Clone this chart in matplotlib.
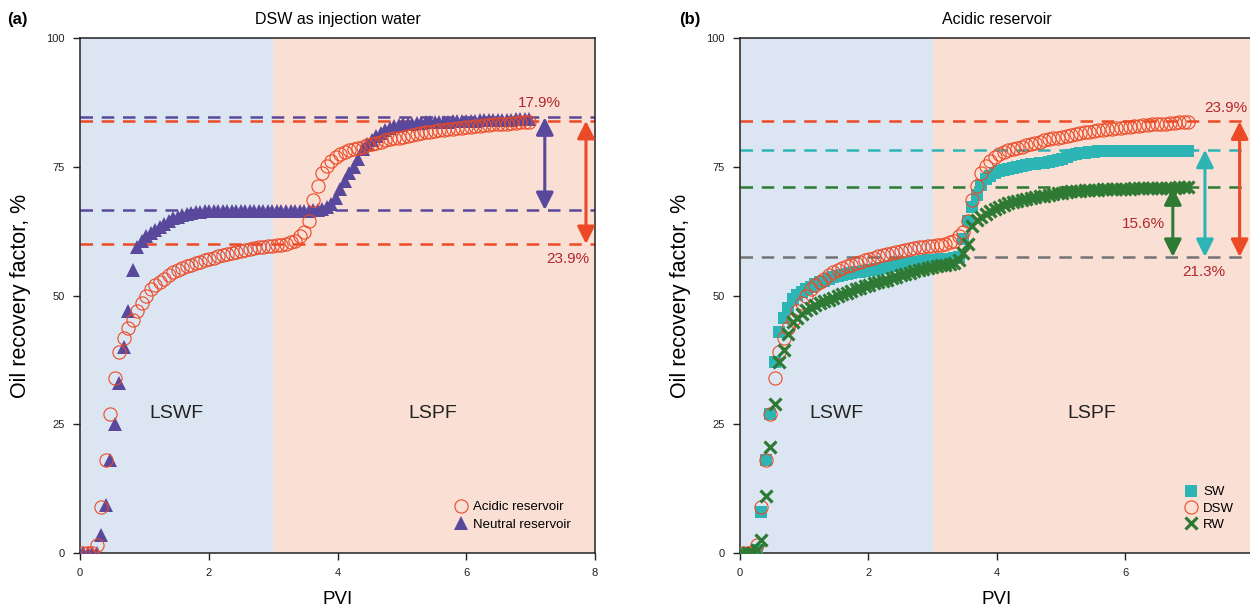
import numpy as np
import matplotlib
matplotlib.use('Agg')
import matplotlib.pyplot as plt

plt.rcParams['font.family'] = ['Liberation Sans', 'DejaVu Sans']

# PVI sampling grid of the simulation output
pvi = np.round(0.05 + 0.07 * np.arange(100), 2)

# (a) / (b) DSW in acidic reservoir (same run in both panels)
dsw_acidic = [0, 0, 0, 1.5, 9, 18, 27, 34, 39, 41.8,
              43.6, 45.3, 47, 48.6, 49.9, 51.2, 52, 52.6, 53.3, 53.9,
              54.6, 55.0, 55.4, 55.7, 56.0, 56.3, 56.5, 56.8, 57.0, 57.3,
              57.6, 57.9, 58.0, 58.2, 58.4, 58.6, 58.8, 59.0, 59.2, 59.4,
              59.5, 59.6, 59.7, 59.8, 59.9, 60.0, 60.3, 60.6, 61.5, 62.4,
              64.5, 68.5, 71.3, 73.8, 75.2, 76.2, 76.9, 77.4, 77.9, 78.2,
              78.5, 78.7, 78.9, 79.2, 79.4, 79.7, 79.9, 80.1, 80.3, 80.5,
              80.6, 80.8, 81.0, 81.2, 81.4, 81.5, 81.7, 81.8, 81.9, 82.1,
              82.2, 82.3, 82.4, 82.5, 82.6, 82.7, 82.8, 82.9, 83.0, 83.1,
              83.2, 83.3, 83.3, 83.4, 83.4, 83.5, 83.5, 83.6, 83.6, 83.7]

# (a) DSW in neutral reservoir
dsw_neutral = [0, 0, 0, 0, 3.5, 9.3, 18, 25, 33, 40,
               47, 55, 59.5, 60.6, 61.5, 62.1, 62.7, 63.3, 63.9, 64.5,
               65.0, 65.3, 65.6, 65.8, 66.0, 66.2, 66.3, 66.4, 66.5, 66.5,
               66.5, 66.5, 66.5, 66.5, 66.5, 66.5, 66.5, 66.5, 66.5, 66.5,
               66.5, 66.5, 66.5, 66.5, 66.5, 66.5, 66.5, 66.5, 66.5, 66.5,
               66.5, 66.6, 66.7, 66.8, 67.2, 67.8, 69.0, 70.6, 72.3, 73.8,
               75.0, 76.5, 78.4, 79.4, 80.2, 81.0, 81.6, 82.2, 82.6, 82.9,
               83.1, 83.3, 83.4, 83.4, 83.5, 83.5, 83.6, 83.6, 83.6, 83.7,
               83.7, 83.7, 83.8, 83.8, 83.8, 83.9, 83.9, 83.9, 84.0, 84.0,
               84.0, 84.0, 84.1, 84.1, 84.1, 84.1, 84.2, 84.2, 84.2, 84.2]

# (b) SW in acidic reservoir
sw_acidic = [0, 0, 0, 0.5, 8, 18, 27, 37, 43, 45.6,
             47.5, 49.3, 50.1, 50.7, 51.2, 51.7, 52.2, 52.6, 52.9, 53.2,
             53.5, 53.7, 53.9, 54.1, 54.3, 54.5, 54.6, 54.8, 54.9, 55.0,
             55.2, 55.4, 55.5, 55.7, 55.9, 56.1, 56.3, 56.4, 56.5, 56.6,
             56.7, 56.8, 56.9, 56.9, 57.0, 57.0, 57.1, 57.2, 57.5, 61.0,
             64.5, 67.2, 69.6, 71.4, 72.6, 73.3, 73.8, 74.1, 74.4, 74.6,
             74.8, 75.0, 75.1, 75.3, 75.5, 75.6, 75.7, 75.8, 76.0, 76.1,
             76.3, 76.5, 76.9, 77.2, 77.4, 77.6, 77.7, 77.8, 77.9, 78.0,
             78.0, 78.0, 78.0, 78.1, 78.1, 78.1, 78.1, 78.1, 78.1, 78.1,
             78.1, 78.1, 78.1, 78.1, 78.1, 78.1, 78.1, 78.1, 78.1, 78.1]

# (b) RW in acidic reservoir
rw_acidic = [0, 0, 0, 0.5, 2.5, 11, 20.5, 29, 37, 39.5,
             42.5, 44.8, 45.7, 46.5, 47.1, 47.6, 48.1, 48.5, 48.9, 49.2,
             49.6, 49.9, 50.2, 50.5, 50.8, 51.2, 51.5, 51.8, 52.1, 52.4,
             52.6, 52.9, 53.1, 53.4, 53.6, 53.9, 54.2, 54.4, 54.7, 54.9,
             55.1, 55.3, 55.5, 55.7, 55.9, 56.0, 56.2, 56.4, 56.8, 58.2,
             60.0, 63.5, 64.6, 65.3, 65.9, 66.4, 66.8, 67.2, 67.6, 67.9,
             68.1, 68.3, 68.5, 68.7, 68.9, 69.1, 69.3, 69.4, 69.6, 69.7,
             69.9, 70.0, 70.1, 70.2, 70.3, 70.3, 70.4, 70.4, 70.5, 70.5,
             70.6, 70.6, 70.6, 70.7, 70.7, 70.7, 70.7, 70.8, 70.8, 70.8,
             70.8, 70.8, 70.9, 70.9, 70.9, 70.9, 70.9, 71.0, 71.0, 71.0]

# reference levels (end of LSWF / end of LSPF)
levels_a = {'acidic': (60.0, 83.9), 'neutral': (66.6, 84.6)}
levels_b = {'base': 57.5, 'DSW': 83.8, 'SW': 78.3, 'RW': 71.0}
labels_a = ['17.9%', '23.9%']
labels_b = ['23.9%', '21.3%', '15.6%']

RED = '#ec4a26'
PURPLE = '#5a489c'
TEAL = '#2db5b5'
GREEN = '#2e7a34'
GREY = '#737373'
TXT = '#b3282d'
BLUE_BG = '#dce6f2'
PINK_BG = '#fadfd4'


def style_axes(ax, xmax, xticks):
    ax.axvspan(0, 3, color=BLUE_BG, zorder=0, lw=0)
    ax.axvspan(3, xmax, color=PINK_BG, zorder=0, lw=0)
    ax.set_xlim(0, xmax)
    ax.set_ylim(0, 100)
    ax.set_xticks(xticks)
    ax.set_yticks([0, 25, 50, 75, 100])
    ax.tick_params(labelsize=8, length=5, width=1, colors='#222222', pad=6)
    for s in ax.spines.values():
        s.set_color('#222222')
        s.set_linewidth(1.1)
    ax.set_xlabel('PVI', fontsize=13.5, labelpad=9)
    ax.set_ylabel('Oil recovery factor, %', fontsize=15.5, labelpad=11)
    ax.text(1.5, 27, 'LSWF', fontsize=14, color='#222222', ha='center', va='center')
    ax.text(5.48, 27, 'LSPF', fontsize=14, color='#222222', ha='center', va='center')


def dbl_arrow(ax, x, y0, y1, color):
    ax.annotate('', xy=(x, y1), xytext=(x, y0),
                arrowprops=dict(arrowstyle='<|-|>,head_length=0.7,head_width=0.35',
                                color=color, lw=2.2, mutation_scale=15,
                                shrinkA=0, shrinkB=0), zorder=6)


fig = plt.figure(figsize=(12.5, 6.14), dpi=100)
ax1 = fig.add_axes([0.064, 0.0993, 0.412, 0.8388])
ax2 = fig.add_axes([0.592, 0.0993, 0.411, 0.8388])

# ---- (a)
style_axes(ax1, 8, [0, 2, 4, 6, 8])
dash = dict(lw=1.8, dashes=(5, 3.5), zorder=2)
ax1.axhline(levels_a['neutral'][1], color=PURPLE, **dash)
ax1.axhline(levels_a['neutral'][0], color=PURPLE, **dash)
ax1.axhline(levels_a['acidic'][1], color=RED, **dash)
ax1.axhline(levels_a['acidic'][0], color=RED, **dash)
h_neu, = ax1.plot(pvi, dsw_neutral, ls='none', marker='^', ms=9.5,
                  color=PURPLE, mec=PURPLE, mew=0, zorder=3)
h_acd, = ax1.plot(pvi, dsw_acidic, ls='none', marker='o', ms=9.5,
                  mfc='none', mec=RED, mew=0.8, zorder=4)
dbl_arrow(ax1, 7.22, levels_a['neutral'][0], levels_a['neutral'][1], PURPLE)
dbl_arrow(ax1, 7.86, levels_a['acidic'][0], levels_a['acidic'][1], RED)
ax1.text(7.14, 87.4, labels_a[0], color=TXT, fontsize=11, ha='center', va='center')
ax1.text(7.58, 57.0, labels_a[1], color=TXT, fontsize=11, ha='center', va='center')
ax1.legend([h_acd, h_neu], ['Acidic reservoir', 'Neutral reservoir'],
           loc='lower right', bbox_to_anchor=(0.975, 0.02), frameon=False,
           fontsize=9.5, handletextpad=0.3, labelspacing=0.4, handlelength=1.2)
ax1.set_title('DSW as injection water', fontsize=11.5, pad=10)
fig.text(0.006, 0.968, '(a)', fontsize=12, fontweight='bold', va='center')

# ---- (b)
style_axes(ax2, 8, [0, 2, 4, 6])
ax2.axhline(levels_b['DSW'], color=RED, **dash)
ax2.axhline(levels_b['SW'], color=TEAL, **dash)
ax2.axhline(levels_b['RW'], color=GREEN, **dash)
ax2.axhline(levels_b['base'], color=GREY, **dash)
h_sw, = ax2.plot(pvi, sw_acidic, ls='none', marker='s', ms=8.5,
                 color=TEAL, mew=0, zorder=3)
h_dsw, = ax2.plot(pvi, dsw_acidic, ls='none', marker='o', ms=9.5,
                  mfc='none', mec=RED, mew=0.8, zorder=4)
h_rw, = ax2.plot(pvi, rw_acidic, ls='none', marker='x', ms=8,
                 color=GREEN, mew=2.3, zorder=5)
dbl_arrow(ax2, 6.74, levels_b['base'], levels_b['RW'], GREEN)
dbl_arrow(ax2, 7.24, levels_b['base'], levels_b['SW'], TEAL)
dbl_arrow(ax2, 7.78, levels_b['base'], levels_b['DSW'], RED)
ax2.text(7.57, 86.5, labels_b[0], color=TXT, fontsize=11, ha='center', va='center')
ax2.text(7.23, 54.5, labels_b[1], color=TXT, fontsize=11, ha='center', va='center')
ax2.text(6.28, 63.9, labels_b[2], color=TXT, fontsize=11, ha='center', va='center')
ax2.legend([h_sw, h_dsw, h_rw], ['SW', 'DSW', 'RW'],
           loc='lower left', bbox_to_anchor=(0.84, 0.02), frameon=False,
           fontsize=9.5, handletextpad=0.3, labelspacing=0.3, handlelength=1.2)
ax2.set_title('Acidic reservoir', fontsize=11.5, pad=10)
fig.text(0.543, 0.968, '(b)', fontsize=12, fontweight='bold', va='center')

fig.savefig('out.png', dpi=100)
